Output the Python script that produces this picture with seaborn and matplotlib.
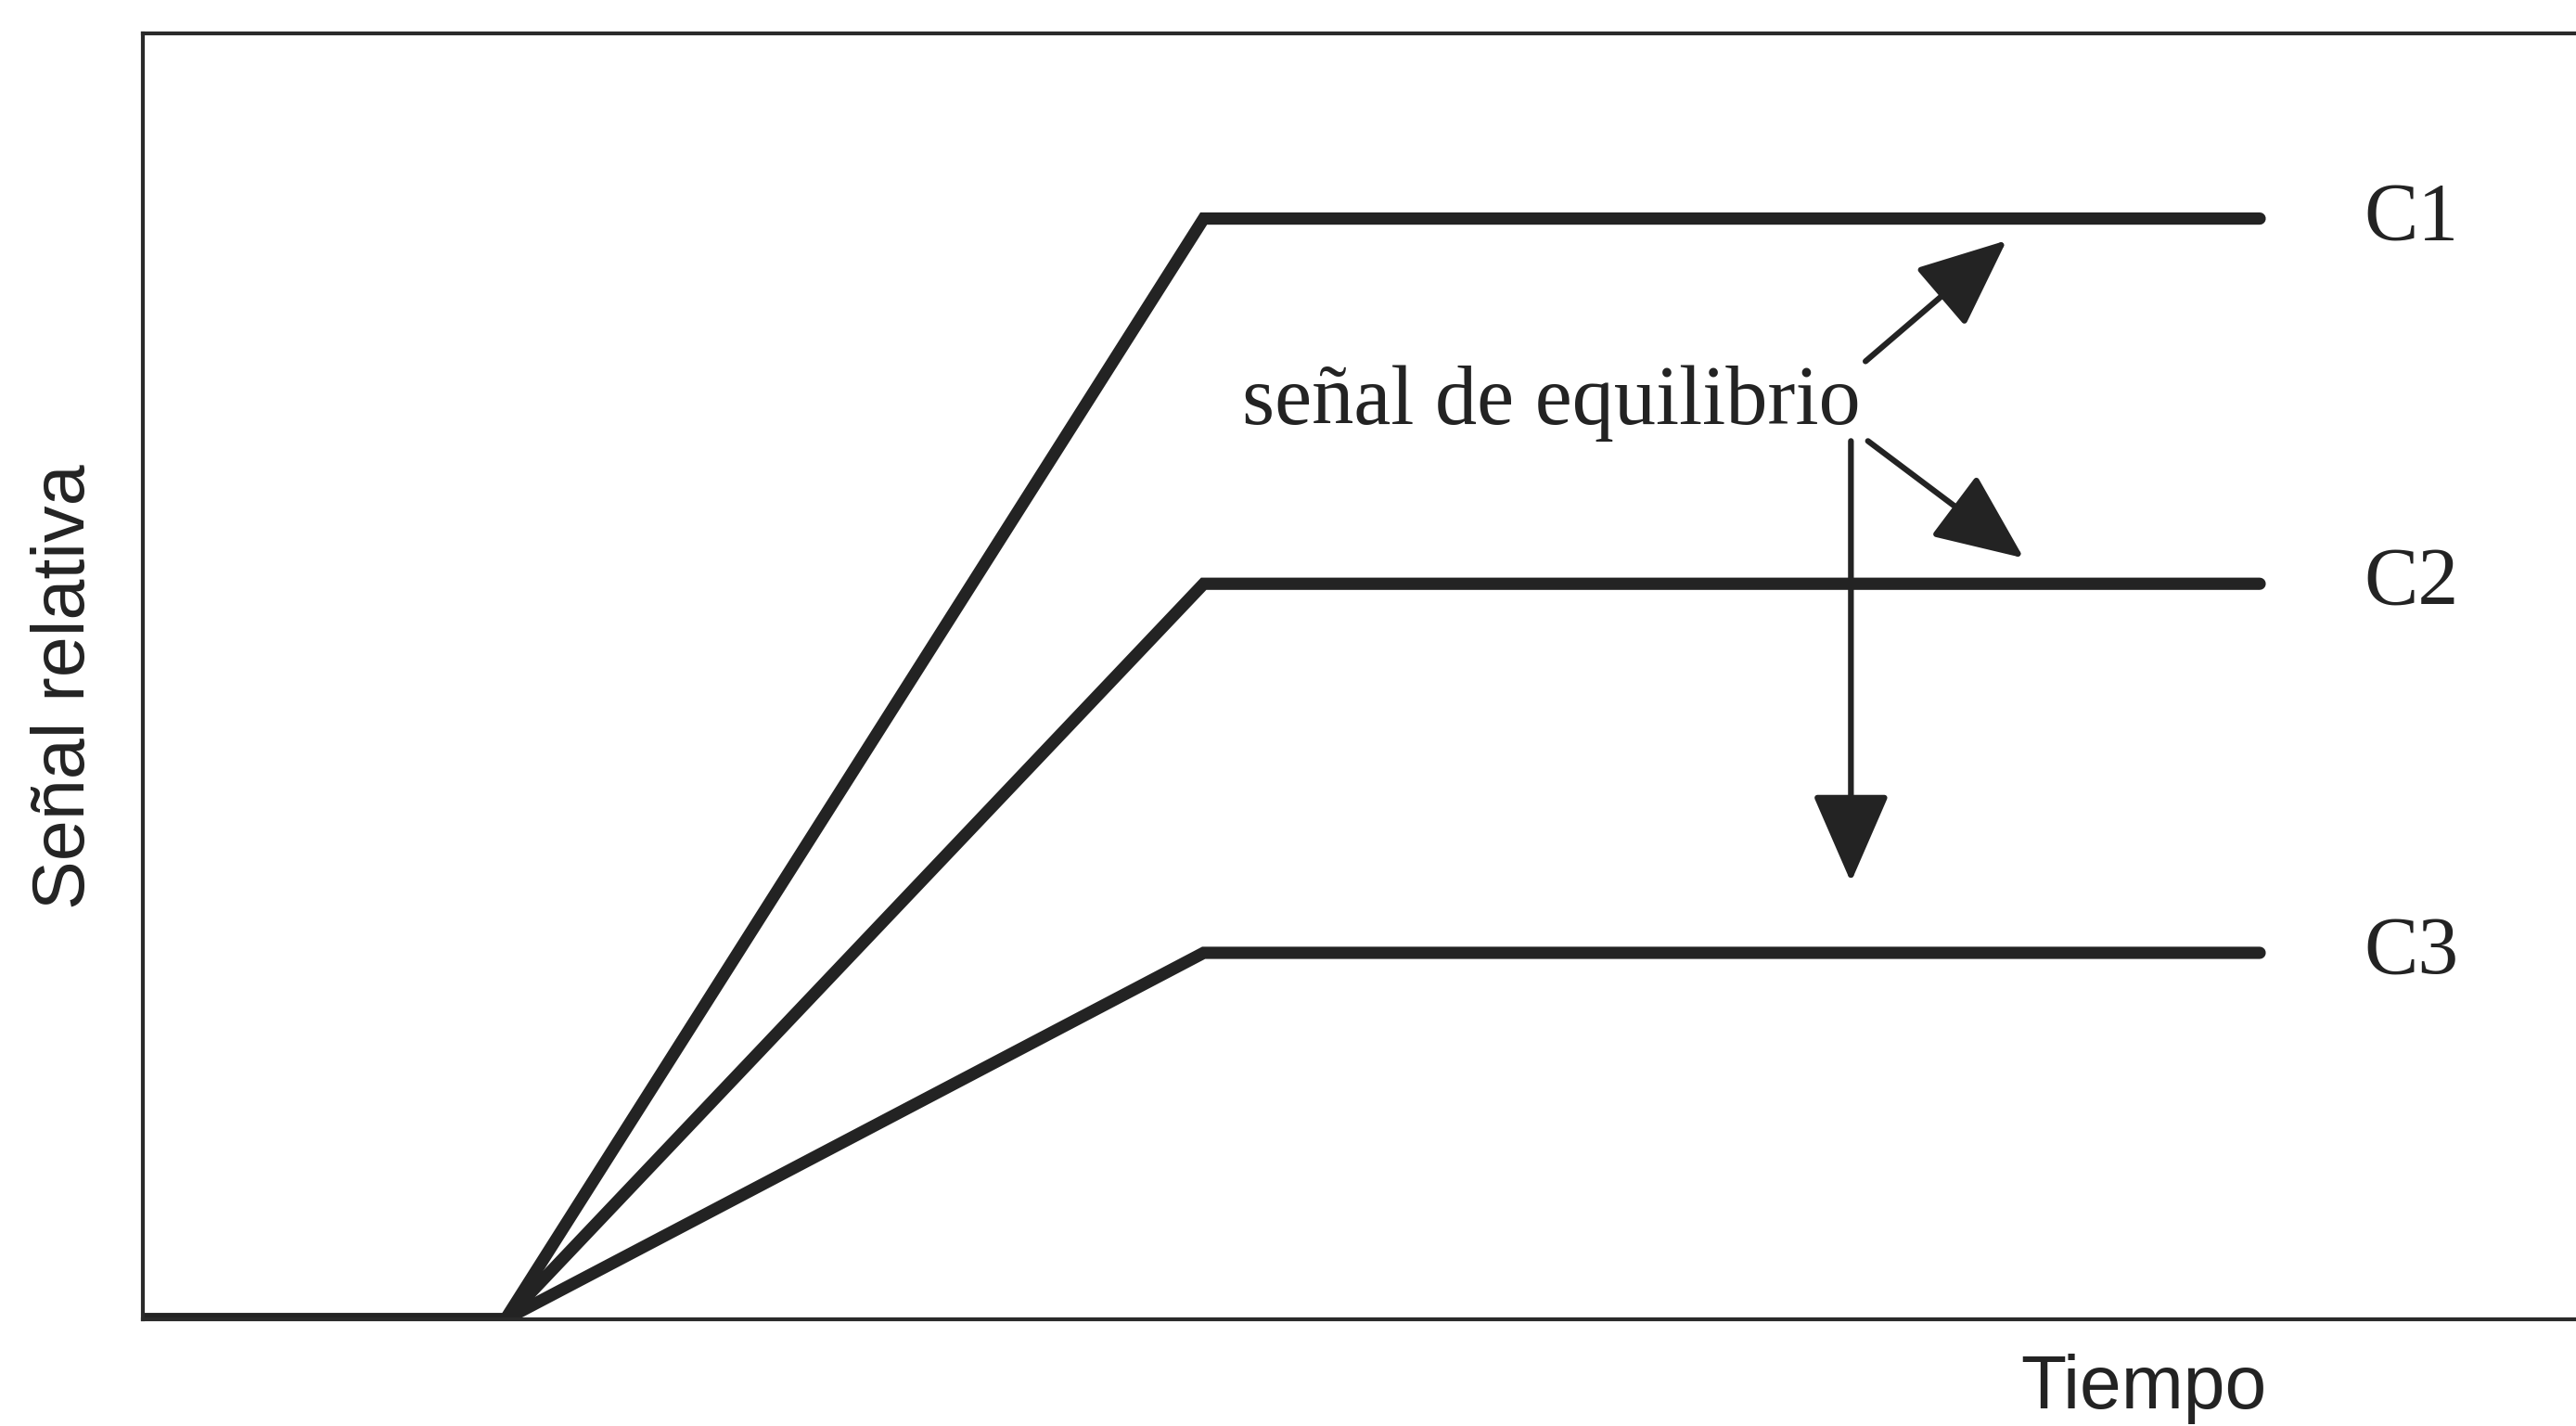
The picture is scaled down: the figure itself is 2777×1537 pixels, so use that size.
import pandas as pd
import matplotlib.pyplot as plt
import seaborn as sns

# Datos del esquema (unidades relativas 0-100)
tiempo = [0, 14.9, 43.6, 87.0]
curvas = ["C1", "C2", "C3"]
niveles = [85.6, 57.2, 28.5]

filas = []
for curva, nivel in zip(curvas, niveles):
    for t, s in zip(tiempo, [0, 0, nivel, nivel]):
        filas.append({"tiempo": t, "senal": s, "curva": curva})
df = pd.DataFrame(filas)

sns.set_style("white")
plt.rcParams["font.family"] = ["Liberation Sans", "DejaVu Sans"]

fig = plt.figure(figsize=(27.77, 15.37), dpi=100)
ax = fig.add_axes([154 / 2777, 115 / 1537, 1 - 154 / 2777, 1386 / 1537])

color = "#232323"
sns.lineplot(data=df, x="tiempo", y="senal", hue="curva", palette=[color] * 3,
             estimator=None, sort=False, legend=False, lw=9.5, ax=ax)
for l in ax.lines:
    l.set_solid_capstyle("round")
    l.set_solid_joinstyle("miter")

ax.set_xlim(0, 100)
ax.set_ylim(0, 100)
ax.set_xticks([])
ax.set_yticks([])
ax.set_xlabel("")
ax.set_ylabel("")
for lado in ["left", "top", "bottom"]:
    ax.spines[lado].set_linewidth(3)
    ax.spines[lado].set_color("#2a2a2a")
ax.spines["right"].set_visible(False)

# etiquetas de las curvas
serif = ["Liberation Serif", "DejaVu Serif"]
for curva, nivel in zip(curvas, niveles):
    ax.text(91.3, nivel, curva, family=serif, fontsize=63,
            ha="left", va="center", color=color)

ax.text(57.9, 69.6, "señal de equilibrio", family=serif,
        fontsize=65, ha="center", va="baseline", color=color)

flecha = dict(arrowstyle="-|>,head_length=1.15,head_width=0.5", mutation_scale=52,
              lw=4.5, color=color, shrinkA=0, shrinkB=0)
ax.annotate("", xy=(76.6, 83.9), xytext=(70.8, 74.5), arrowprops=flecha)
ax.annotate("", xy=(77.3, 59.2), xytext=(70.9, 68.3), arrowprops=flecha)
ax.annotate("", xy=(70.2, 34.0), xytext=(70.2, 68.3), arrowprops=flecha)

fig.text(71 / 2777, 1 - 740 / 1537, "Señal relativa", rotation=90, fontsize=57,
         ha="center", va="center", color=color)
fig.text(2444 / 2777, 1 - 1518 / 1537, "Tiempo", fontsize=58,
         ha="right", va="baseline", color=color)

fig.savefig("out.png", dpi=100)
